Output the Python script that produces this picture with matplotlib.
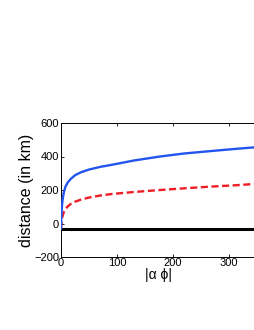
import matplotlib
matplotlib.use("Agg")
import matplotlib.pyplot as plt

# data
blue_x = [0, 0.5, 1, 2, 3, 5, 8, 12, 18, 25, 35, 50, 70, 90, 130, 177, 220, 266, 310, 350]
blue_y = [-30, 30, 70, 115, 145, 185, 220, 245, 268, 288, 305, 322, 338, 350, 376, 400, 418, 432, 445, 456]
red_x = [0, 0.5, 1, 2, 3, 5, 8, 12, 18, 25, 35, 50, 70, 90, 130, 177, 220, 266, 310, 350]
red_y = [-30, -5, 10, 32, 48, 68, 86, 102, 118, 130, 142, 155, 167, 176, 188, 200, 210, 220, 228, 237]
black_x = [0, 350]
black_y = [-30, -30]
xticks = [0, 100, 200, 300]
yticks = [-200, 0, 200, 400, 600]

plt.rcParams['font.family'] = ['Liberation Sans', 'DejaVu Sans']

fig = plt.figure(figsize=(2.55, 3.30), dpi=100)
ax = fig.add_axes([61/255, 1-257/330, 196/255, 134/330])
ax.plot(black_x, black_y, color='black', lw=2.2, zorder=2)
ax.plot(red_x, red_y, color='#ee1c24', lw=1.7, ls=(0, (3, 1.5)), zorder=3)
ax.plot(blue_x, blue_y, color='#2255ee', lw=1.7, zorder=4)
ax.set_xlim(0, 350)
ax.set_ylim(-200, 600)
ax.set_xticks(xticks)
ax.set_yticks(yticks)
ax.tick_params(direction='in', top=True, right=True, labelsize=8, length=2.5, width=0.6, pad=1.5)
ax.tick_params(axis='x', pad=1)
for s in ax.spines.values():
    s.set_linewidth(0.7)
ax.set_ylabel('distance (in km)', fontsize=11.5, labelpad=0)
ax.set_xlabel('|α ϕ|', fontsize=10, labelpad=0)
fig.savefig('out.png', dpi=100)
